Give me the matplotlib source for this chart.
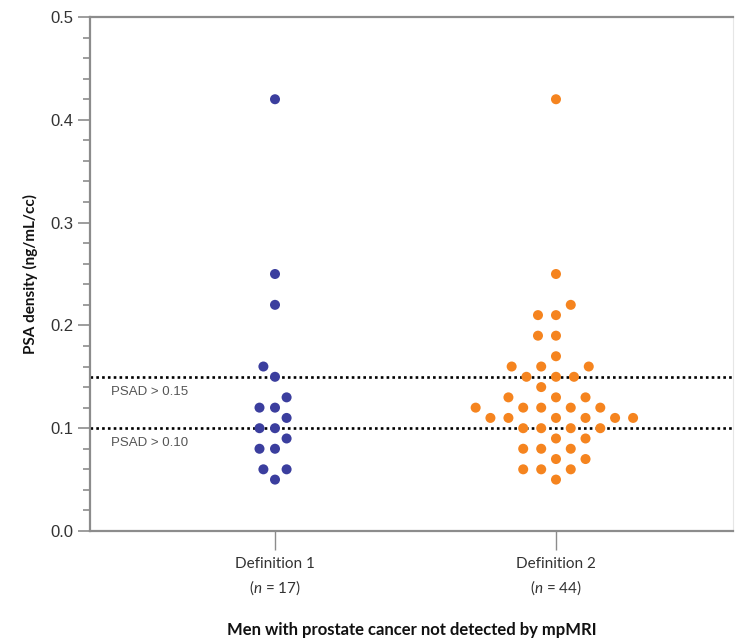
import numpy as np
import matplotlib
matplotlib.use("Agg")
import matplotlib.pyplot as plt

# ---------------- data ----------------
categories = ["Definition 1", "Definition 2"]
n_labels = ["17", "44"]
def1_values = [0.42, 0.25, 0.22, 0.16, 0.15, 0.13, 0.12, 0.12, 0.11,
               0.10, 0.10, 0.09, 0.08, 0.08, 0.06, 0.06, 0.05]
def2_values = [0.42, 0.25, 0.22, 0.21, 0.21, 0.19, 0.19, 0.17,
               0.16, 0.16, 0.16, 0.15, 0.15, 0.15, 0.14,
               0.13, 0.13, 0.13, 0.12, 0.12, 0.12, 0.12, 0.12,
               0.11, 0.11, 0.11, 0.11, 0.11, 0.11,
               0.10, 0.10, 0.10, 0.10, 0.09, 0.09,
               0.08, 0.08, 0.08, 0.07, 0.07, 0.06, 0.06, 0.06, 0.05]
thresholds = [0.15, 0.10]
threshold_labels = ["PSAD > 0.15", "PSAD > 0.10"]
y_ticks = [0.0, 0.1, 0.2, 0.3, 0.4, 0.5]

# ---------------- style ----------------
colors = ["#3B3E9E", "#F5841F"]
swarm_dist_px = [15.5, 18.0]
plt.rcParams["mathtext.fontset"] = "custom"
plt.rcParams["mathtext.rm"] = "Lato"
plt.rcParams["mathtext.it"] = "Lato:italic"

W, H = 736, 638
fig = plt.figure(figsize=(W / 100, H / 100), dpi=100)
ax = fig.add_axes([90 / W, (H - 531) / H, 643 / W, 514 / H])
ax.set_xlim(0.3416, 2.63)
ax.set_ylim(0.0, 0.5)


def swarm(vals_px, d):
    order = np.argsort(vals_px, kind="stable")
    placed = []
    xs = np.zeros(len(vals_px))
    for i in order:
        y = vals_px[i]
        cands = [0.0]
        for xj, yj in placed:
            dy = abs(y - yj)
            if dy < d:
                dx = np.sqrt(d * d - dy * dy)
                cands += [xj - dx, xj + dx]
        cands = sorted(set(np.round(cands, 6)), key=lambda c: (round(abs(c), 4), c))
        for c in cands:
            if all((c - xj) ** 2 + (y - yj) ** 2 >= d * d - 1e-2 for xj, yj in placed):
                xs[i] = c
                placed.append((c, y))
                break
    return xs


# pixel scales from the axes transform
p00 = ax.transData.transform((0, 0))
p11 = ax.transData.transform((1, 1))
px_per_x = p11[0] - p00[0]
px_per_y = p11[1] - p00[1]

for k, vals in enumerate([def1_values, def2_values]):
    vals = np.asarray(vals)
    offs = swarm(vals * px_per_y, swarm_dist_px[k]) / px_per_x
    ax.scatter(k + 1 + offs, vals, s=52, color=colors[k], edgecolors="none", zorder=3)

# threshold lines
for t, lab in zip(thresholds, threshold_labels):
    ax.axhline(t, color="black", lw=1.9, linestyle=(0, (1, 1.2)), zorder=2)
    ax.text(0.416, t - 0.0145, lab, fontsize=9.5, color="#555555",
            family="Liberation Sans", ha="left", va="center")

# spines
spine_col = "#8C8C8C"
for side in ["left", "bottom", "top"]:
    ax.spines[side].set_color(spine_col)
    ax.spines[side].set_linewidth(1.6)
ax.spines["right"].set_color("#E6E6E6")
ax.spines["right"].set_linewidth(0.8)

# ticks
ax.set_yticks(y_ticks)
ax.set_yticklabels([f"{v:.1f}" for v in y_ticks], family="Liberation Sans",
                   fontsize=12, color="#333333")
ax.set_yticks(np.arange(0, 0.5001, 0.02), minor=True)
ax.tick_params(axis="y", which="major", length=9, width=1.2, color=spine_col, pad=3)
ax.tick_params(axis="y", which="minor", length=5, width=1.2, color=spine_col)
ax.set_xticks([1, 2])
ax.set_xticklabels([f"{c}\n($\\it{{n}}$ = {n})" for c, n in zip(categories, n_labels)],
                   family="Lato", fontsize=11, color="#333333", linespacing=1.5)
ax.tick_params(axis="x", which="major", length=14, width=1.0, color=spine_col, pad=5)

ax.set_ylabel("PSA density (ng/mL/cc)", family="Lato", fontweight="bold",
              fontsize=11, color="#111111", labelpad=9)
ax.set_xlabel("Men with prostate cancer not detected by mpMRI", family="Lato",
              fontweight="bold", fontsize=12, color="#111111", labelpad=18)

fig.savefig("out.png", dpi=100)
